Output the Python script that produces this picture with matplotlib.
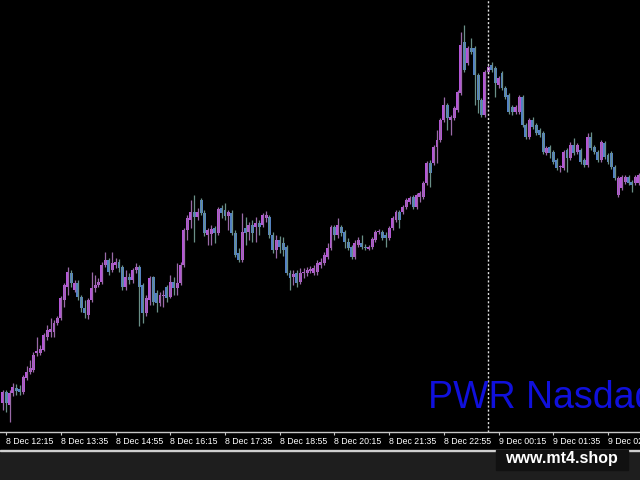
import numpy as np
import pandas as pd
import matplotlib
matplotlib.use('Agg')
import matplotlib.pyplot as plt
from matplotlib.patches import Rectangle

# 5 minute bars, 8 Dec 12:10 -> 9 Dec 03:40
times = pd.date_range('2022-12-08 12:10', periods=187, freq='5min')

open_ = [11537, 11548, 11535, 11547, 11552, 11551, 11548, 11562, 11568, 11570,
         11587, 11587, 11590, 11603, 11608, 11608, 11617, 11622, 11640, 11653,
         11667, 11650, 11657, 11643, 11632, 11625, 11640, 11652, 11655, 11658,
         11675, 11680, 11670, 11675, 11678, 11673, 11653, 11663, 11660, 11670,
         11673, 11655, 11627, 11640, 11663, 11647, 11637, 11644, 11653, 11643,
         11658, 11652, 11657, 11675, 11710, 11720, 11728, 11723, 11740, 11727,
         11705, 11706, 11712, 11707, 11732, 11730, 11724, 11727, 11707, 11687,
         11680, 11712, 11708, 11715, 11713, 11717, 11715, 11722, 11723, 11705,
         11690, 11700, 11697, 11693, 11667, 11663, 11667, 11658, 11667, 11667,
         11669, 11667, 11668, 11675, 11677, 11683, 11692, 11713, 11705, 11713,
         11708, 11698, 11693, 11683, 11695, 11697, 11693, 11691, 11693, 11700,
         11708, 11708, 11705, 11702, 11712, 11720, 11728, 11728, 11733, 11738,
         11743, 11733, 11743, 11743, 11757, 11777, 11777, 11793, 11800, 11820,
         11835, 11820, 11822, 11830, 11847, 11898, 11877, 11892, 11892, 11865,
         11840, 11825, 11868, 11875, 11872, 11855, 11867, 11852, 11845, 11833,
         11828, 11828, 11843, 11815, 11803, 11820, 11815, 11810, 11807, 11787,
         11793, 11788, 11780, 11773, 11772, 11790, 11782, 11795, 11788, 11790,
         11780, 11775, 11803, 11793, 11788, 11780, 11797, 11785, 11787, 11773,
         11745, 11752, 11758, 11763, 11758, 11757, 11757]
high = [11550, 11550, 11550, 11557, 11556, 11555, 11565, 11574, 11580, 11588,
        11603, 11595, 11607, 11615, 11622, 11620, 11624, 11644, 11657, 11673,
        11670, 11660, 11660, 11645, 11640, 11642, 11668, 11665, 11662, 11678,
        11688, 11682, 11688, 11682, 11681, 11675, 11670, 11667, 11672, 11677,
        11675, 11657, 11645, 11664, 11664, 11650, 11648, 11650, 11655, 11665,
        11663, 11677, 11678, 11712, 11725, 11740, 11745, 11732, 11742, 11730,
        11712, 11715, 11714, 11733, 11735, 11737, 11730, 11730, 11710, 11692,
        11727, 11723, 11718, 11720, 11723, 11720, 11727, 11729, 11725, 11708,
        11705, 11704, 11703, 11695, 11670, 11670, 11670, 11672, 11672, 11673,
        11674, 11675, 11680, 11682, 11688, 11697, 11715, 11715, 11722, 11715,
        11710, 11702, 11695, 11700, 11703, 11705, 11696, 11695, 11703, 11710,
        11711, 11710, 11708, 11714, 11724, 11730, 11730, 11735, 11742, 11744,
        11745, 11747, 11749, 11759, 11779, 11780, 11795, 11810, 11822, 11843,
        11837, 11825, 11834, 11850, 11908, 11915, 11894, 11902, 11894, 11867,
        11842, 11870, 11875, 11878, 11874, 11864, 11869, 11854, 11847, 11835,
        11835, 11845, 11845, 11817, 11822, 11823, 11817, 11812, 11809, 11794,
        11795, 11790, 11782, 11775, 11790, 11792, 11798, 11802, 11797, 11792,
        11782, 11807, 11808, 11795, 11790, 11800, 11799, 11787, 11789, 11775,
        11764, 11765, 11765, 11765, 11760, 11765, 11767]
low = [11530, 11528, 11518, 11544, 11545, 11545, 11546, 11560, 11566, 11568,
       11584, 11585, 11589, 11600, 11603, 11603, 11615, 11620, 11633, 11645,
       11653, 11648, 11640, 11628, 11622, 11621, 11638, 11648, 11653, 11656,
       11673, 11665, 11668, 11672, 11668, 11650, 11650, 11656, 11657, 11667,
       11614, 11617, 11624, 11635, 11635, 11628, 11634, 11633, 11638, 11642,
       11645, 11645, 11655, 11673, 11700, 11712, 11698, 11720, 11725, 11704,
       11695, 11695, 11697, 11705, 11722, 11720, 11710, 11705, 11683, 11678,
       11678, 11695, 11700, 11698, 11698, 11705, 11713, 11718, 11702, 11687,
       11682, 11687, 11684, 11665, 11650, 11655, 11653, 11656, 11662, 11664,
       11667, 11665, 11665, 11672, 11675, 11681, 11690, 11700, 11702, 11704,
       11692, 11690, 11681, 11681, 11693, 11691, 11690, 11690, 11691, 11698,
       11706, 11700, 11693, 11700, 11710, 11718, 11712, 11726, 11731, 11736,
       11731, 11731, 11738, 11741, 11755, 11753, 11775, 11777, 11798, 11818,
       11810, 11805, 11820, 11828, 11845, 11868, 11875, 11886, 11835, 11827,
       11823, 11823, 11866, 11868, 11843, 11852, 11850, 11841, 11826, 11825,
       11826, 11826, 11813, 11801, 11801, 11811, 11805, 11803, 11786, 11785,
       11782, 11776, 11770, 11768, 11770, 11768, 11780, 11785, 11786, 11776,
       11773, 11773, 11790, 11786, 11778, 11778, 11781, 11776, 11771, 11760,
       11743, 11750, 11756, 11755, 11748, 11755, 11755]
close = [11548, 11537, 11547, 11553, 11549, 11548, 11563, 11568, 11572, 11585,
         11589, 11591, 11605, 11610, 11611, 11617, 11622, 11642, 11655, 11668,
         11657, 11657, 11643, 11632, 11627, 11640, 11652, 11655, 11658, 11675,
         11680, 11668, 11677, 11678, 11672, 11653, 11663, 11660, 11670, 11673,
         11653, 11627, 11642, 11662, 11638, 11637, 11645, 11645, 11642, 11658,
         11652, 11657, 11675, 11710, 11722, 11728, 11723, 11728, 11727, 11707,
         11710, 11711, 11707, 11731, 11727, 11724, 11728, 11707, 11685, 11680,
         11708, 11707, 11715, 11707, 11717, 11713, 11725, 11725, 11705, 11690,
         11700, 11693, 11690, 11667, 11662, 11666, 11657, 11667, 11668, 11670,
         11671, 11672, 11677, 11678, 11685, 11692, 11713, 11705, 11715, 11707,
         11698, 11692, 11683, 11697, 11700, 11693, 11692, 11693, 11701, 11708,
         11709, 11702, 11702, 11712, 11722, 11728, 11720, 11733, 11740, 11742,
         11733, 11745, 11747, 11757, 11777, 11767, 11793, 11800, 11820, 11835,
         11822, 11823, 11832, 11848, 11895, 11870, 11892, 11888, 11865, 11840,
         11825, 11868, 11873, 11870, 11857, 11862, 11852, 11843, 11828, 11828,
         11833, 11843, 11815, 11803, 11820, 11813, 11807, 11805, 11788, 11792,
         11787, 11778, 11772, 11774, 11788, 11782, 11795, 11787, 11795, 11778,
         11775, 11803, 11792, 11788, 11780, 11798, 11783, 11778, 11773, 11762,
         11762, 11763, 11763, 11757, 11755, 11763, 11765]

tick_labels = ['8 Dec 12:15', '8 Dec 13:35', '8 Dec 14:55', '8 Dec 16:15',
               '8 Dec 17:35', '8 Dec 18:55', '8 Dec 20:15', '8 Dec 21:35',
               '8 Dec 22:55', '9 Dec 00:15', '9 Dec 01:35', '9 Dec 02:55']

up_col = '#b556d8'
dn_col = '#5180c6'
up_wick = '#9a6aa8'
dn_wick = '#6a9088'

o = np.array(open_, dtype=float)
h = np.array(high, dtype=float)
l = np.array(low, dtype=float)
c = np.array(close, dtype=float)
x = np.arange(len(c))
up = c >= o

fig = plt.figure(figsize=(6.4, 4.8), dpi=100, facecolor='black')
ax = fig.add_axes([0, 48 / 480, 1, 432 / 480], facecolor='black')

ax.vlines(x[up], l[up], h[up], color=up_wick, lw=0.9)
ax.vlines(x[~up], l[~up], h[~up], color=dn_wick, lw=0.9)
body_h = np.maximum(np.abs(c - o), 1.2)
ax.bar(x[up], body_h[up], bottom=np.minimum(o, c)[up], width=0.86, color=up_col, linewidth=0)
ax.bar(x[~up], body_h[~up], bottom=np.minimum(o, c)[~up], width=0.86, color=dn_col, linewidth=0)

# day separator at midnight
midnight = int(np.where(times == pd.Timestamp('2022-12-09 00:00'))[0][0])
ax.axvline(midnight, color='#e0e0e0', lw=1.0, linestyle=(0, (1.5, 1.5)))

ax.set_xlim(-0.79, 186.35)
ax.set_ylim(11508, 11940)

tick_pos = [i for i in range(len(times)) if times[i].strftime('%d %b %H:%M').lstrip('0') in tick_labels]
ax.set_xticks(tick_pos)
ax.set_xticklabels(tick_labels, ha='left', fontsize=6.3, color='white', family='Liberation Sans')
ax.tick_params(axis='x', direction='out', length=2.2, width=0.8, color='#c8c8c8', pad=1.6)
ax.set_yticks([])
for s in ['top', 'left', 'right']:
    ax.spines[s].set_visible(False)
ax.spines['bottom'].set_color('#c8c8c8')
ax.spines['bottom'].set_linewidth(1.0)

ax.text(428 / 640, 24 / 432, 'PWR Nasdaq', transform=ax.transAxes, fontsize=27,
        color='#1010dc', family='Liberation Sans', va='baseline', ha='left', clip_on=True)

# bottom strip and watermark
fig.patches.append(Rectangle((0, 0), 1, 29 / 480, transform=fig.transFigure, color='#1e1e1e', zorder=0))
fig.patches.append(Rectangle((0, 29 / 480), 1, 1.5 / 480, transform=fig.transFigure, color='#d0d0d0', zorder=1))
fig.patches.append(Rectangle((496 / 640, 10 / 480), 132 / 640, 20 / 480, transform=fig.transFigure, color='#111111', zorder=1))
fig.text(561.5 / 640, 22 / 480, 'www.mt4.shop', ha='center', va='center', fontsize=11.5,
         fontweight='bold', color='white', family='Liberation Sans')

fig.savefig('out.png', dpi=100, facecolor='black')
